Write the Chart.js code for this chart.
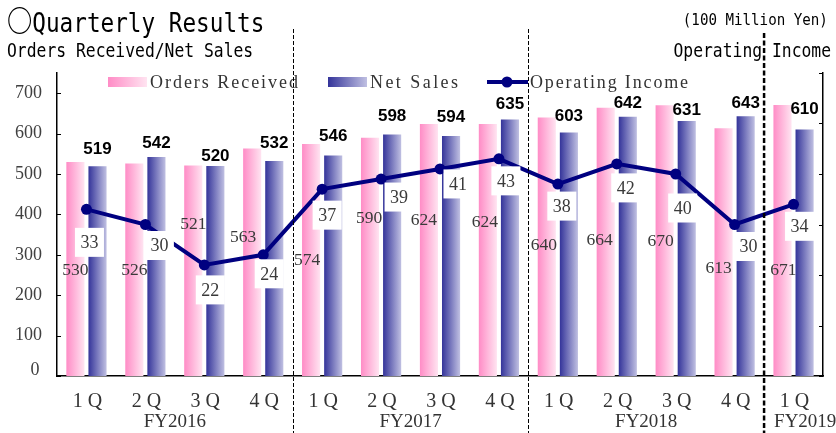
<!DOCTYPE html>
<html>
<head>
<meta charset="utf-8">
<script src="https://cdn.jsdelivr.net/npm/chart.js@4.4.1/dist/chart.umd.min.js"></script>
<style>
  html, body { margin: 0; padding: 0; background: #fff; }
  #wrap { position: relative; width: 836px; height: 433px; overflow: hidden; }
  #chart { position: absolute; left: 0; top: 0; }
  .hd { position: absolute; white-space: nowrap; font-family: "DejaVu Sans Mono", monospace; line-height: 1; color: #000; }
  #title { left: 7px; top: 5px; font-size: 26px; transform: scaleX(0.872); transform-origin: 0 0; }
  #title .c { font-family: "Noto Sans CJK JP", sans-serif; font-size: 29px; font-weight: bold; line-height: 1; }
  #sub { left: 7px; top: 41px; font-size: 19px; transform: scaleX(0.861); transform-origin: 0 0; }
  #unit { right: 8px; top: 12px; font-size: 16.5px; transform: scaleX(0.859); transform-origin: 100% 0; }
  #oi { right: 5px; top: 41px; font-size: 19px; transform: scaleX(0.861); transform-origin: 100% 0; }
</style>
</head>
<body>
<div id="wrap">
  <canvas id="chart" width="836" height="433"></canvas>
  <div class="hd" id="title"><span class="c">○</span>Quarterly Results</div>
  <div class="hd" id="sub">Orders Received/Net Sales</div>
  <div class="hd" id="unit">(100 Million Yen)</div>
  <div class="hd" id="oi">Operating Income</div>
</div>
<script>
// --- Data ---
const quarterLabels = ['1 Q', '2 Q', '3 Q', '4 Q', '1 Q', '2 Q', '3 Q', '4 Q', '1 Q', '2 Q', '3 Q', '4 Q', '1 Q'];
const fiscalYears = ['FY2016', 'FY2017', 'FY2018', 'FY2019'];
const quartersPerYear = [4, 4, 4, 1];
const ordersReceived = [530, 526, 521, 563, 574, 590, 624, 624, 640, 664, 670, 613, 671];
const netSales = [519, 542, 520, 532, 546, 598, 594, 635, 603, 642, 631, 643, 610];
const operatingIncome = [33, 30, 22, 24, 37, 39, 41, 43, 38, 42, 40, 30, 34];
const salesTicks = [0, 100, 200, 300, 400, 500, 600, 700];
const incomeTicks = [0, 10, 20, 30, 40, 50, 60];
const legendLabels = ['Orders Received', 'Net Sales', 'Operating Income'];

// --- Styles ---
const PINK = ['#ff8cc6', '#ffe4f1'];
const BLUE = ['#34349a', '#c0c0e2'];
const NAVY = '#000080';
const CAT_PCT = 0.75;
const BAR_PCT = 0.82;
const SERIF = '"Liberation Serif", serif';

// label nudges (layout only): orders label anchor on sales axis, x shift
const orderLabelAt = [262, 262, 374, 344, 287, 391, 384, 380, 323, 335, 333, 267, 261];
const orderLabelDx = [0, 0, 0, -9, -4, -1, -5, -3, -3, -6, -4, -5, 1];
const salesLabelDy = [17, 14, 10, 18, 19, 18, 19, 15, 16, 13, 11, 13, 20];
const incomeLabelDx = [3, 14, 6, 6, 5, 18, 18, 7, 4, 9, 7, 14, 6];
const incomeLabelDy = [33, 21, 25, 19, 26, 18, 15, 22, 22, 24, 34, 22, 22];

function barGradient(colors, slot) {
    return (c) => {
        const chart = c.chart;
        const xs = chart.scales.x;
        if (!chart.chartArea || !xs || c.type !== 'data') return colors[0];
        const center = xs.getPixelForValue(c.dataIndex);
        const cw = xs.getPixelForValue(1) - xs.getPixelForValue(0);
        const group = cw * CAT_PCT;
        const slotW = group / 2;
        const left = center - group / 2 + slot * slotW + slotW * (1 - BAR_PCT) / 2;
        const g = chart.ctx.createLinearGradient(left, 0, left + slotW * BAR_PCT, 0);
        g.addColorStop(0, colors[0]);
        g.addColorStop(1, colors[1]);
        return g;
    };
}

function fitText(ctx, str, x, y, width) {
    ctx.letterSpacing = '0px';
    const nat = ctx.measureText(str).width;
    ctx.letterSpacing = ((width - nat) / (str.length - 1)).toFixed(2) + 'px';
    ctx.fillText(str, x, y);
    ctx.letterSpacing = '0px';
}

const decor = {
    id: 'decor',
    afterDraw(chart) {
        const { ctx, chartArea: a, scales: { x, y, y1 } } = chart;
        ctx.save();

        // inward tick marks
        ctx.strokeStyle = '#000';
        ctx.lineWidth = 1;
        salesTicks.forEach(v => {
            const py = Math.round(y.getPixelForValue(v)) + 0.5;
            ctx.beginPath(); ctx.moveTo(a.left, py); ctx.lineTo(a.left + 4, py); ctx.stroke();
        });
        incomeTicks.forEach(v => {
            const py = Math.round(y1.getPixelForValue(v)) + 0.5;
            ctx.beginPath(); ctx.moveTo(a.right - 4, py); ctx.lineTo(a.right, py); ctx.stroke();
        });

        // the zero label sits a little above the axis line
        ctx.fillStyle = '#404040';
        ctx.font = '18px ' + SERIF;
        ctx.textAlign = 'center';
        ctx.textBaseline = 'middle';
        ctx.fillText(String(salesTicks[0]), 35, y.getPixelForValue(0) - 6);

        const ordersMeta = chart.getDatasetMeta(1);
        const salesMeta = chart.getDatasetMeta(2);
        const incomeMeta = chart.getDatasetMeta(0);

        // orders received values
        ctx.fillStyle = '#3a3a3a';
        ctx.font = '17.5px ' + SERIF;
        ordersMeta.data.forEach((el, i) => {
            ctx.fillText(String(ordersReceived[i]), el.x + orderLabelDx[i], y.getPixelForValue(orderLabelAt[i]));
        });

        // net sales values
        ctx.fillStyle = '#000';
        ctx.font = 'bold 17px "Liberation Sans", Arial, sans-serif';
        salesMeta.data.forEach((el, i) => {
            ctx.fillText(String(netSales[i]), el.x, el.y - salesLabelDy[i]);
        });

        // operating income values in white boxes
        ctx.font = '18px ' + SERIF;
        incomeMeta.data.forEach((el, i) => {
            const cx = el.x + incomeLabelDx[i];
            const cy = el.y + incomeLabelDy[i];
            ctx.fillStyle = '#fff';
            ctx.fillRect(cx - 14.5, cy - 14.5, 29, 29);
            ctx.fillStyle = '#3a3a3a';
            ctx.fillText(String(operatingIncome[i]), cx, cy + 1);
        });

        // quarter labels and fiscal years
        ctx.fillStyle = '#333';
        ctx.font = '20px ' + SERIF;
        quarterLabels.forEach((q, i) => ctx.fillText(q, x.getPixelForValue(i) + 1, 402));

        ctx.font = '19px ' + SERIF;
        const bounds = [];
        let start = 0;
        fiscalYears.forEach((fy, k) => {
            const n = quartersPerYear[k];
            if (k > 0) bounds.push((x.getPixelForValue(start - 1) + x.getPixelForValue(start)) / 2);
            if (n > 1) {
                ctx.textAlign = 'center';
                ctx.fillText(fy, (x.getPixelForValue(start) + x.getPixelForValue(start + n - 1)) / 2, 422);
            } else {
                ctx.textAlign = 'left';
                ctx.fillText(fy, bounds[bounds.length - 1] + 10, 422);
            }
            start += n;
        });

        // legend
        const lg = (cols, x0) => {
            const g = ctx.createLinearGradient(x0, 0, x0 + 39, 0);
            g.addColorStop(0, cols[0]); g.addColorStop(1, cols[1]);
            ctx.fillStyle = g;
            ctx.fillRect(x0, 77, 39, 10);
        };
        lg(PINK, 108);
        lg(BLUE, 328);
        ctx.strokeStyle = NAVY;
        ctx.lineWidth = 4;
        ctx.beginPath(); ctx.moveTo(487, 82); ctx.lineTo(528, 82); ctx.stroke();
        ctx.fillStyle = NAVY;
        ctx.beginPath(); ctx.arc(507, 82, 5.5, 0, Math.PI * 2); ctx.fill();

        ctx.fillStyle = '#333';
        ctx.font = '18px ' + SERIF;
        ctx.textAlign = 'left';
        fitText(ctx, legendLabels[0], 150, 83, 148);
        fitText(ctx, legendLabels[1], 370, 83, 88);
        fitText(ctx, legendLabels[2], 530, 83, 158);

        // fiscal year separators
        ctx.strokeStyle = '#000';
        bounds.forEach((bx, k) => {
            const last = k === bounds.length - 1;
            ctx.lineWidth = last ? 2.5 : 1;
            ctx.setLineDash(last ? [5, 2.5] : [4, 2]);
            const px = last ? bx : Math.round(bx) + 0.5;
            ctx.beginPath(); ctx.moveTo(px, last ? 33 : 29); ctx.lineTo(px, 433); ctx.stroke();
        });
        ctx.setLineDash([]);
        ctx.restore();
    }
};

new Chart(document.getElementById('chart'), {
    type: 'bar',
    data: {
        labels: quarterLabels,
        datasets: [
            {
                type: 'line', label: legendLabels[2], data: operatingIncome, yAxisID: 'y1',
                borderColor: NAVY, backgroundColor: NAVY, borderWidth: 4,
                pointRadius: 5.5, pointBackgroundColor: NAVY, pointBorderWidth: 0,
                tension: 0, order: 1
            },
            {
                label: legendLabels[0], data: ordersReceived, yAxisID: 'y',
                backgroundColor: barGradient(PINK, 0),
                categoryPercentage: CAT_PCT, barPercentage: BAR_PCT, order: 2
            },
            {
                label: legendLabels[1], data: netSales, yAxisID: 'y',
                backgroundColor: barGradient(BLUE, 1),
                categoryPercentage: CAT_PCT, barPercentage: BAR_PCT, order: 2
            }
        ]
    },
    options: {
        responsive: false,
        animation: false,
        devicePixelRatio: 1,
        layout: { padding: { top: 73, left: 0, right: 0, bottom: 0 } },
        plugins: { legend: { display: false }, tooltip: { enabled: false } },
        scales: {
            x: {
                offset: true,
                grid: { display: false, drawTicks: false },
                ticks: { display: false },
                border: { color: '#000', width: 1.5 },
                afterFit(s) { s.height = 57; }
            },
            y: {
                position: 'left', min: 0, max: 750,
                grid: { display: false, drawTicks: false },
                border: { color: '#000', width: 1.5 },
                ticks: {
                    padding: 15, color: '#404040', font: { family: SERIF, size: 18 },
                    callback: (v) => (v === 0 ? '' : String(v))
                },
                afterBuildTicks(s) { s.ticks = salesTicks.map(v => ({ value: v })); },
                afterFit(s) { s.width = 57; }
            },
            y1: {
                position: 'right', min: 0, max: 60,
                grid: { display: false, drawTicks: false },
                border: { color: '#000', width: 1.5 },
                ticks: { display: false },
                afterBuildTicks(s) { s.ticks = incomeTicks.map(v => ({ value: v })); },
                afterFit(s) { s.width = 13; }
            }
        }
    },
    plugins: [decor]
});
</script>
</body>
</html>
